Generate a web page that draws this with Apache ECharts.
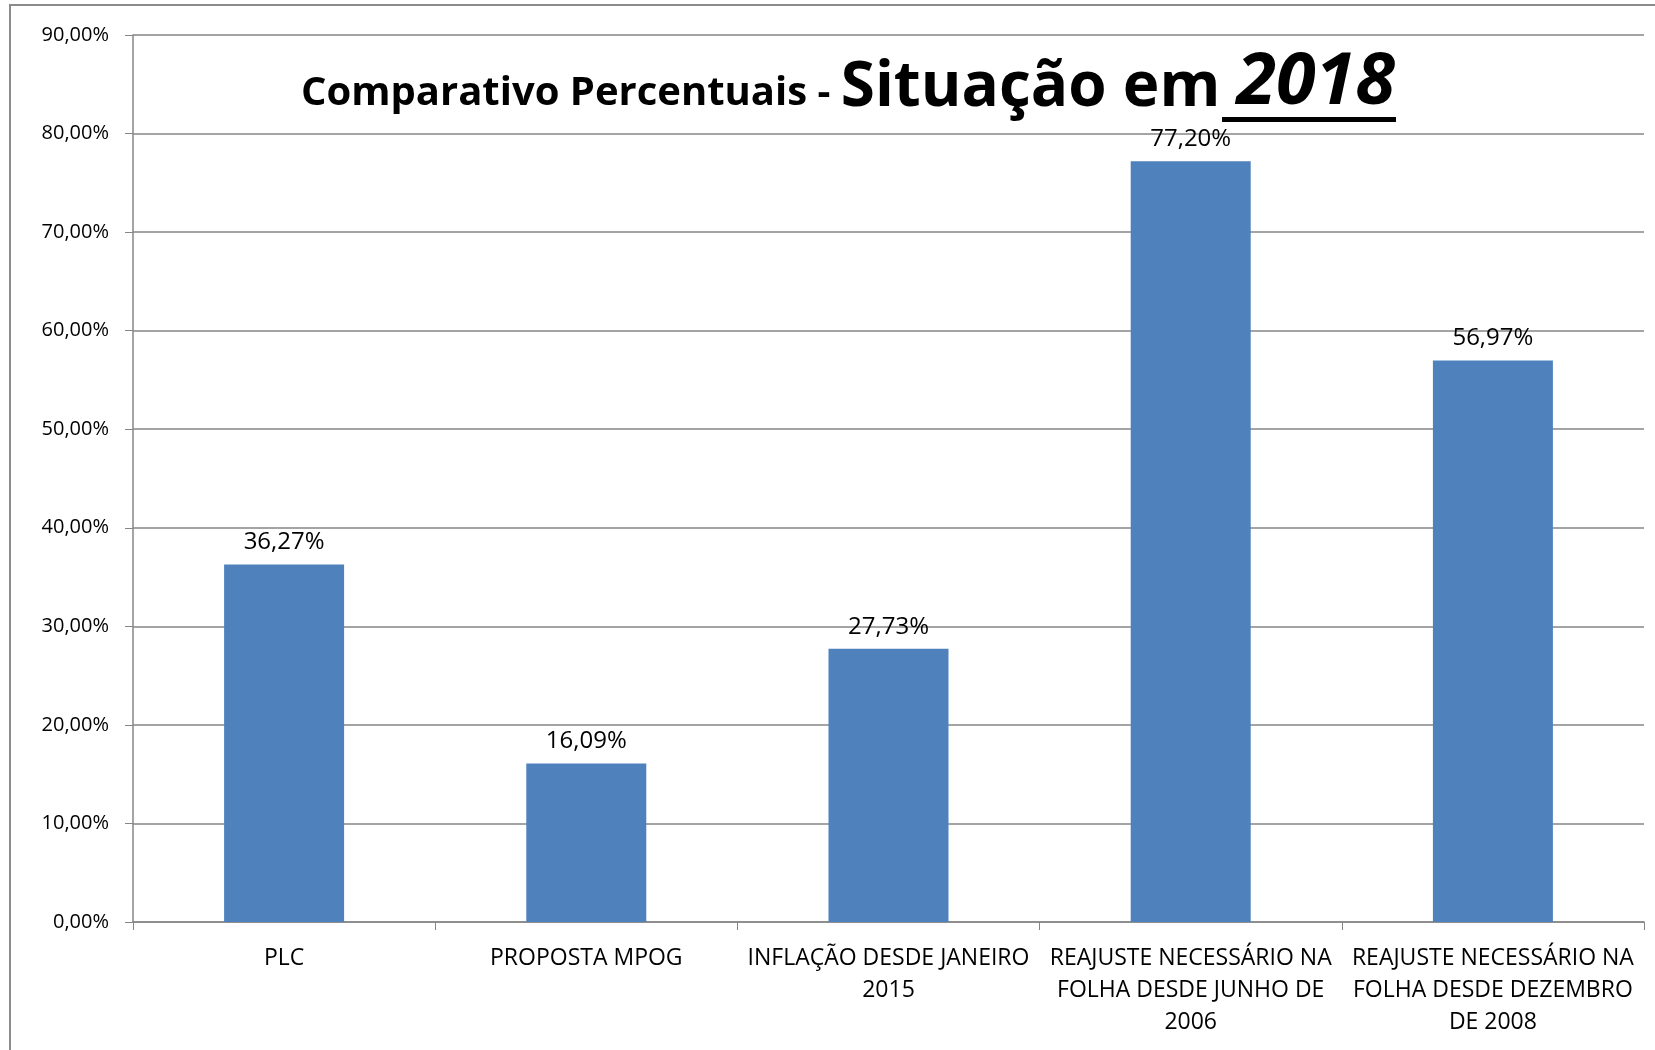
<!DOCTYPE html>
<html>
<head>
<meta charset="utf-8">
<script src="https://cdn.jsdelivr.net/npm/echarts@6/dist/echarts.min.js"></script>
<style>
  html, body { margin: 0; padding: 0; background: #fff; }
  #chart { width: 1655px; height: 1050px; }
</style>
</head>
<body>
<div id="chart"></div>
<script>
// categorias e valores (%)
const categories = [
  'PLC',
  'PROPOSTA MPOG',
  'INFLAÇÃO DESDE JANEIRO\n2015',
  'REAJUSTE NECESSÁRIO NA\nFOLHA DESDE JUNHO DE\n2006',
  'REAJUSTE NECESSÁRIO NA\nFOLHA DESDE DEZEMBRO\nDE 2008'
]
const values = [36.27, 16.09, 27.73, 77.20, 56.97]
const yTicks = [0, 10, 20, 30, 40, 50, 60, 70, 80, 90]

const fmt = (v) => v.toFixed(2).replace('.', ',') + '%'
const font = 'Open Sans'

const chart = echarts.init(document.getElementById('chart'))

chart.setOption({
  animation: false,
  title: {
    text: '{a|Comparativo Percentuais - }{b|Situação em }{c|2018}',
    left: 843,
    textAlign: 'center',
    top: 42,
    textStyle: {
      rich: {
        a: { fontFamily: font, fontWeight: 'bold', fontSize: 40, color: '#000', verticalAlign: 'bottom', padding: [0, 0, 5, 0] },
        b: { fontFamily: font, fontWeight: 'bold', fontSize: 62, color: '#000', verticalAlign: 'bottom' },
        c: { fontFamily: font, fontWeight: 'bold', fontStyle: 'italic', fontSize: 72, color: '#000', verticalAlign: 'bottom' }
      }
    }
  },
  graphic: [
    // moldura externa
    {
      type: 'rect',
      shape: { x: 10, y: 5, width: 1700, height: 1100 },
      style: { fill: 'none', stroke: '#8c8c8c', lineWidth: 2 },
      silent: true
    },
    // sublinhado do ano
    {
      type: 'rect',
      shape: { x: 1222, y: 117, width: 174, height: 5 },
      style: { fill: '#000' },
      silent: true
    }
  ],
  grid: {
    left: 133,
    right: 11,
    top: 35,
    bottom: 128
  },
  xAxis: {
    type: 'category',
    data: categories,
    axisLine: { lineStyle: { color: '#868686', width: 1.5 } },
    axisTick: { show: true, length: 8, lineStyle: { color: '#868686' } },
    axisLabel: {
      interval: 0,
      margin: 20,
      fontFamily: font,
      fontSize: 23,
      lineHeight: 32,
      color: '#000'
    }
  },
  yAxis: {
    type: 'value',
    min: 0,
    max: 90,
    interval: 10,
    axisLine: { show: true, lineStyle: { color: '#868686', width: 1.5 } },
    axisTick: { show: true, length: 8, lineStyle: { color: '#868686' } },
    splitLine: { lineStyle: { color: '#868686', width: 1.5 } },
    axisLabel: {
      margin: 24,
      fontFamily: font,
      fontSize: 20,
      color: '#000',
      formatter: (v) => yTicks.includes(v) ? fmt(v) : ''
    }
  },
  series: [
    {
      type: 'bar',
      data: values,
      barWidth: 120,
      itemStyle: { color: '#4F81BD' },
      label: {
        show: true,
        position: 'top',
        distance: 10,
        fontFamily: font,
        fontSize: 24,
        color: '#000',
        formatter: (p) => fmt(p.value)
      }
    }
  ]
})
</script>
</body>
</html>
